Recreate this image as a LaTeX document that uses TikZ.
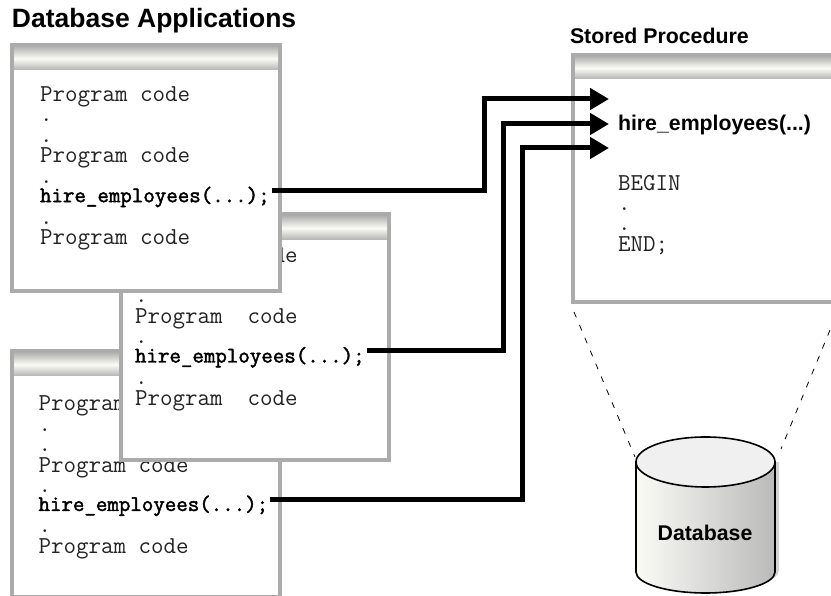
\documentclass[tikz,border=0pt]{standalone}
\usepackage{fontspec}
\setmainfont{Liberation Sans}
\setsansfont{Liberation Sans}
\newfontfamily\callfont[FakeBold=2]{Latin Modern Mono}
\usetikzlibrary{arrows.meta}
\definecolor{winborder}{HTML}{ABABAB}
\definecolor{bargray}{HTML}{B4B4B2}
\definecolor{baglow}{HTML}{FBFBF6}
\definecolor{codegray}{HTML}{222222}
\tikzset{
  winbox/.style={draw=winborder, line width=4pt, fill=white, rectangle, inner sep=0pt, outer sep=0pt, minimum width=268pt, minimum height=246pt},
  titlebar/.style={rectangle, inner sep=0pt, outer sep=0pt, anchor=north, minimum width=264pt, minimum height=23pt, top color=bargray, bottom color=bargray, middle color=baglow},
  codetext/.style={inner sep=0pt, outer sep=0pt, anchor=north west, align=left, text=codegray, font=\ttfamily\fontsize{24.3}{20.4}\selectfont},
  calltext/.style={inner sep=0pt, outer sep=0pt, anchor=base west, font=\callfont\fontsize{22.3}{20.4}\selectfont},
  headtext/.style={inner sep=0pt, outer sep=0pt, anchor=base west, font=\sffamily\bfseries\fontsize{21.3}{24}\selectfont},
  flow/.style={-{Triangle[length=19pt,width=21pt]}, line width=5pt},
  dashlink/.style={dashed, dash pattern=on 6pt off 8pt, line width=0.8pt}
}
\begin{document}
\begin{tikzpicture}[x=1pt, y=1pt]
\clip (0,0) rectangle (831,596);

% Titles
\node[headtext, font=\sffamily\bfseries\fontsize{26.5}{30}\selectfont] (apptitle) at (12,568) {Database Applications};
\node[headtext] (proctitle) at (570,552) {Stored Procedure};

% Third application
\node[winbox] (appC) at (146,122) {};
\node[titlebar] (barC) at ([yshift=-2pt]appC.north) {};
\node[codetext] (topC) at (38.5,200) {Program code\\.\\.\\Program code\\.};
\node[calltext] (hireC) at (38.5,85) {hire\_employees(...);};
\node[codetext] (endC) at (38.5,65.8) {.\\Program code};

% Second application
\node[winbox] (appB) at (255,258.5) {};
\node[titlebar] (barB) at ([yshift=-2pt]appB.north) {};
\node[codetext] (topB) at (135,348.8) {Program \ code\\.\\.\\Program \ code\\.};
\node[calltext] (hireB) at (135,233.5) {hire\_employees(...);};
\node[codetext] (endB) at (135,213.8) {.\\Program \ code};

% First application
\node[winbox] (appA) at (146,428) {};
\node[titlebar] (barA) at ([yshift=-2pt]appA.north) {};
\node[codetext] (topA) at (40,509.3) {Program code\\.\\.\\Program code\\.};
\node[calltext] (hireA) at (40,393.8) {hire\_employees(...);};
\node[codetext] (endA) at (40,374.6) {.\\Program code};

% Stored procedure
\node[winbox, minimum height=247pt] (proc) at (707,417.5) {};
\node[titlebar, minimum height=22pt] (barP) at ([yshift=-2pt]proc.north) {};
\node[headtext] (hireP) at (618,465) {hire\_employees(...)};
\node[codetext] (bodyP) at (618,421) {BEGIN\\.\\.\\END;};

% Database
\fill[gray!35] (640,134) -- (640,26) arc[start angle=180, end angle=360, x radius=69.5, y radius=21] -- (779,134) -- cycle;
\draw[line width=1.6pt, left color=baglow, right color=black!27] (636,134) -- (636,24) arc[start angle=180, end angle=360, x radius=69.5, y radius=21] -- (775,134) -- cycle;
\draw[line width=1.6pt, fill=black!6] (705.5,134) ellipse[x radius=69.5, y radius=25];
\node[headtext, anchor=base] (db) at (705,55) {Database};
\coordinate (dbleft) at (635,139);
\coordinate (dbright) at (781,147);

% Arrows
\coordinate (inA) at (609,497);
\coordinate (inB) at (609,472);
\coordinate (inC) at (609,448);
\draw[flow] ([xshift=2pt,yshift=6.5pt]hireA.east) -| (484,497) -- (inA);
\draw[flow] ([xshift=2pt,yshift=6.5pt]hireB.east) -| (503,472) -- (inB);
\draw[flow] ([xshift=2pt,yshift=6.5pt]hireC.east) -| (522,448) -- (inC);
\draw[dashlink] ([xshift=1pt,yshift=-10pt]proc.south west) -- (dbleft);
\draw[dashlink] (830,266) -- (dbright);
\end{tikzpicture}
\end{document}
